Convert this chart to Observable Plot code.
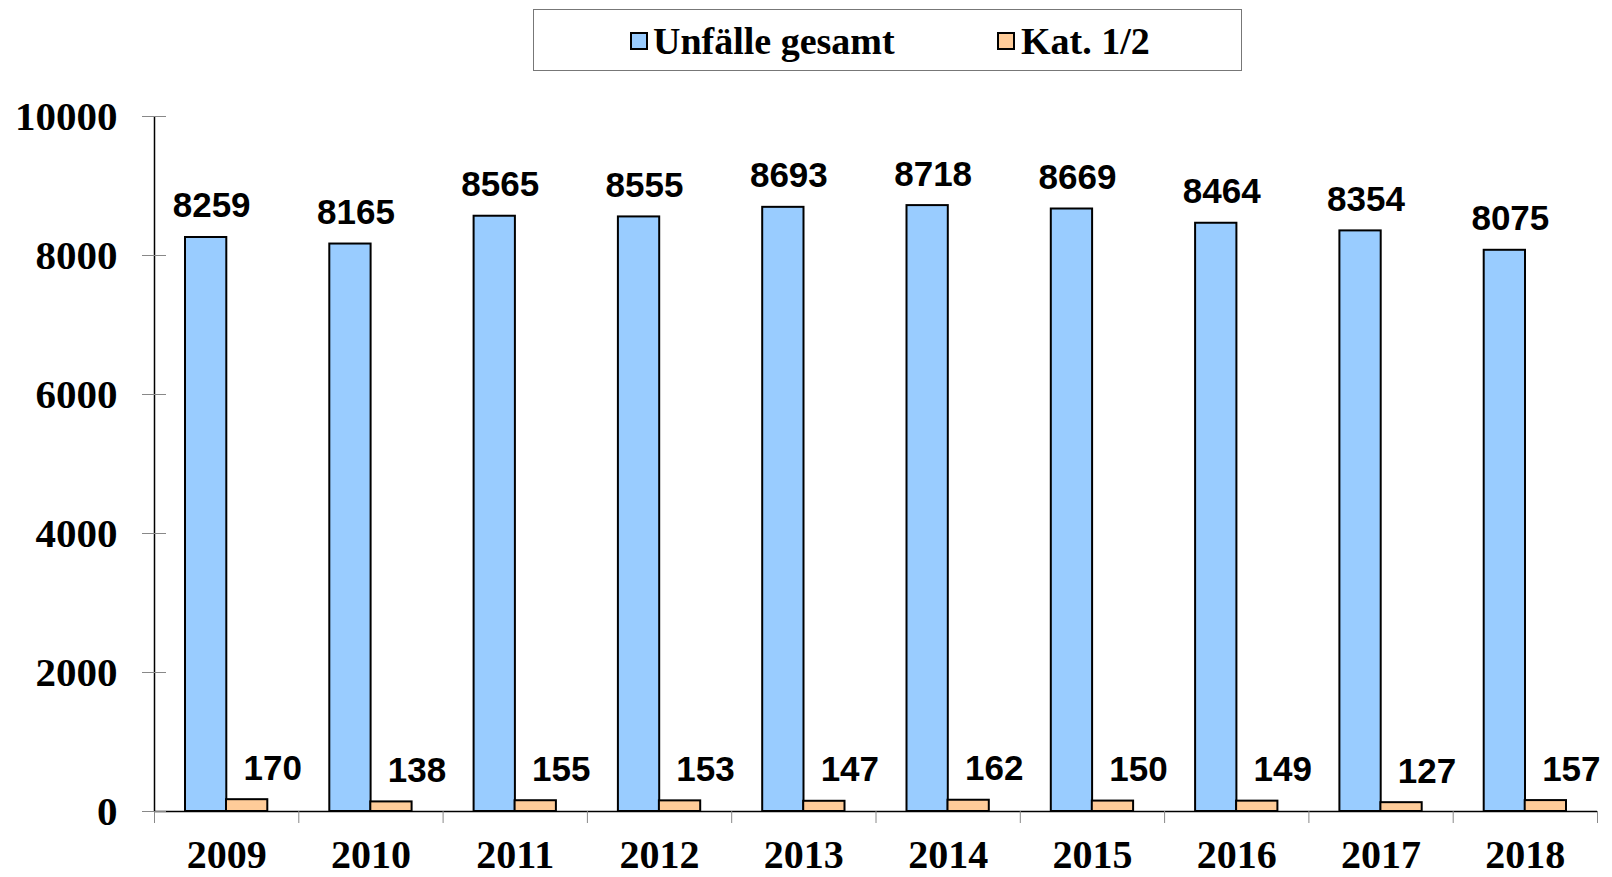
<!DOCTYPE html>
<html>
<head>
<meta charset="utf-8">
<script src="https://cdn.jsdelivr.net/npm/d3@7"></script>
<script src="https://cdn.jsdelivr.net/npm/@observablehq/plot@0.6"></script>
<style>
  html, body { margin: 0; padding: 0; background: #fff; }
  #wrap { width: 1612px; }
  #legend { position: relative; width: 1612px; height: 80px; }
  #legend .box { position: absolute; left: 533px; top: 9px; width: 707px; height: 60px; border: 1.5px solid #777; }
  #legend .sw { position: absolute; width: 14px; height: 14px; border: 2px solid #000; top: 32px; }
  #legend .lab { position: absolute; top: 22px; font-family: "Liberation Serif", "Times New Roman", serif; font-weight: bold; font-size: 38px; line-height: 38px; color: #000; white-space: nowrap; }
</style>
</head>
<body>
<div id="wrap">
  <div id="legend"></div>
  <div id="chart"></div>
</div>
<script>
const years = ["2009","2010","2011","2012","2013","2014","2015","2016","2017","2018"];
const unfaelleGesamt = [8259, 8165, 8565, 8555, 8693, 8718, 8669, 8464, 8354, 8075];
const kat12 = [170, 138, 155, 153, 147, 162, 150, 149, 127, 157];
const yTicks = [0, 2000, 4000, 6000, 8000, 10000];
const seriesNames = ["Unfälle gesamt", "Kat. 1/2"];
const seriesColors = ["#99CCFF", "#FFCC99"];

const rows = years.map((y, i) => ({year: y, total: unfaelleGesamt[i], kat: kat12[i]}));

// legend
const legend = document.getElementById("legend");
legend.innerHTML = `<div class="box"></div>
  <div class="sw" style="left:630px;background:${seriesColors[0]}"></div>
  <div class="lab" style="left:653px">${seriesNames[0]}</div>
  <div class="sw" style="left:997px;background:${seriesColors[1]}"></div>
  <div class="lab" style="left:1021px">${seriesNames[1]}</div>`;

const W = 1612, H = 797, mL = 154, mR = 15, mT = 36, mB = 66;
const half = (W - mL - mR) / years.length / 2;
const serif = "Liberation Serif, Times New Roman, serif";
const sans = "Liberation Sans, Arial, sans-serif";

const chart = Plot.plot({
  width: W,
  height: H,
  marginLeft: mL,
  marginRight: mR,
  marginTop: mT,
  marginBottom: mB,
  style: {background: "#fff", color: "#000"},
  x: {type: "band", domain: years, padding: 0, round: false, label: null},
  y: {domain: [0, 10000], label: null},
  marks: [
    Plot.barY(rows, {x: "year", y: "total", fill: seriesColors[0], stroke: "#000", strokeWidth: 2, insetLeft: 31, insetRight: 72}),
    Plot.barY(rows, {x: "year", y: "kat", fill: seriesColors[1], stroke: "#000", strokeWidth: 2, insetLeft: 72, insetRight: 31}),
    // axis lines
    Plot.ruleY([0], {stroke: "#000", strokeWidth: 1.5}),
    Plot.ruleX([years[0]], {y1: 0, y2: 10000, dx: -half, stroke: "#000", strokeWidth: 1.5}),
    // category boundary ticks
    Plot.ruleX(years, {x: d => d, y1: 0, y2: 0, insetBottom: -12, dx: half, stroke: "#888"}),
    Plot.ruleX([years[0]], {x: d => d, y1: 0, y2: 0, insetBottom: -12, dx: -half, stroke: "#888"}),
    Plot.axisY({ticks: yTicks, tickSize: 24, dx: 12, tickPadding: 25, stroke: "#888", fill: "#000",
      fontSize: 41, fontWeight: "bold", fontFamily: serif, tickFormat: d => String(d), label: null}),
    Plot.axisX({tickSize: 0, tickPadding: 28, fontSize: 40, fontWeight: "bold", fontFamily: serif, label: null}),
    // value labels
    Plot.text(rows, {x: "year", y: "total", text: d => String(d.total), dx: -15, dy: -20, lineAnchor: "bottom",
      fontSize: 35, fontWeight: "bold", fontFamily: sans, fill: "#000"}),
    Plot.text(rows, {x: "year", y: "kat", text: d => String(d.kat), dx: 46, dy: -20, lineAnchor: "bottom",
      fontSize: 35, fontWeight: "bold", fontFamily: sans, fill: "#000"})
  ]
});
document.getElementById("chart").appendChild(chart);
</script>
</body>
</html>
